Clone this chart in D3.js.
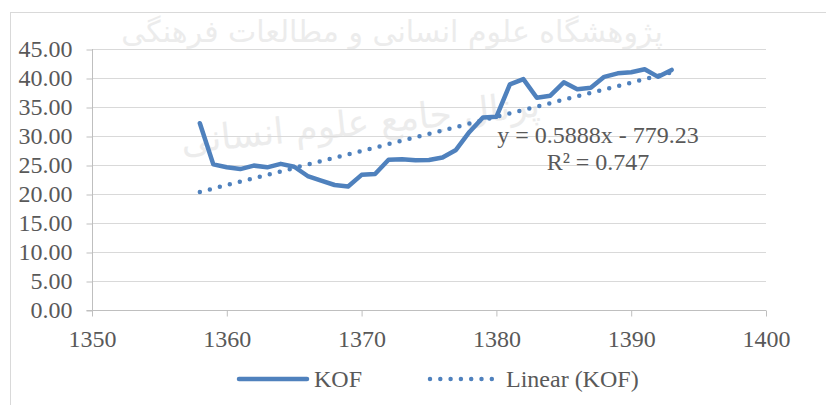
<!DOCTYPE html>
<html>
<head>
<meta charset="utf-8">
<script src="https://cdn.jsdelivr.net/npm/d3@7"></script>
<style>
  html, body { margin: 0; padding: 0; background: #fff; }
  svg { display: block; }
</style>
</head>
<body>
<svg id="chart" width="826" height="405"></svg>
<script>
// ---- data ----
const years = [1358,1359,1360,1361,1362,1363,1364,1365,1366,1367,1368,1369,1370,1371,1372,1373,1374,1375,1376,1377,1378,1379,1380,1381,1382,1383,1384,1385,1386,1387,1388,1389,1390,1391,1392,1393];
const kof   = [32.2,25.1,24.6,24.3,24.9,24.6,25.2,24.7,23.1,22.3,21.55,21.3,23.3,23.45,25.9,26.0,25.8,25.85,26.3,27.6,30.7,33.2,33.3,38.9,39.8,36.6,36.95,39.25,38.05,38.3,40.2,40.8,41.0,41.5,40.2,41.4];
const trendSlope = 0.5888;
const trendIntercept = -779.23;
const equationLines = ["y = 0.5888x - 779.23", "R² = 0.747"];
const xTicks = [1350,1360,1370,1380,1390,1400];
const yTicks = [0,5,10,15,20,25,30,35,40,45];
const legendLabels = ["KOF", "Linear (KOF)"];
const watermark = ["پژوهشگاه علوم انسانی و مطالعات فرهنگی", "پرتال جامع علوم انسانی"];

// ---- layout ----
const svg = d3.select("#chart");
const pL = 92, pR = 766, pT = 49, pB = 310;
const x = d3.scaleLinear().domain([1350,1400]).range([pL, pR]);
const y = d3.scaleLinear().domain([0,45]).range([pB, pT]);
const blue = "#4f81bd";
const textColor = "#595959";
const SERIF = "Liberation Serif";
const serifText = sel => sel.style("font-family", SERIF).style("font-size", "24px").attr("fill", textColor);

// chart frame
svg.append("rect").attr("x", 10.5).attr("y", 12.5).attr("width", 830).attr("height", 400)
  .attr("fill", "none").attr("stroke", "#d9d9d9").attr("stroke-width", 1);

// watermark (faint background logo text)
const wm = svg.append("g").attr("fill", "#ececec")
  .attr("text-anchor", "middle").attr("direction", "rtl");
wm.append("text").attr("x", 392).attr("y", 42).style("font-family", "DejaVu Sans").style("font-size", "30px").text(watermark[0]);
wm.append("text").attr("x", 360).attr("y", 135).style("font-family", "DejaVu Sans").style("font-size", "36px")
  .attr("transform", "rotate(-6,360,120)").text(watermark[1]);

// gridlines
svg.append("g").selectAll("line").data(yTicks.filter(d => d > 0)).join("line")
  .attr("x1", pL).attr("x2", pR)
  .attr("y1", d => Math.round(y(d)) + 0.5).attr("y2", d => Math.round(y(d)) + 0.5)
  .attr("stroke", "#d9d9d9").attr("stroke-width", 1);

// y axis
const yAxis = d3.axisLeft(y).tickValues(yTicks).tickSize(6).tickPadding(14)
  .tickFormat(d3.format(".2f"));
const gy = svg.append("g").attr("transform", `translate(${pL + 0.5},0)`).call(yAxis);
gy.select(".domain").attr("stroke", "#bfbfbf").attr("d", `M-6,${pB + 0.5}H0V${pT}`);
gy.selectAll(".tick line").attr("stroke", "#bfbfbf").attr("transform", "translate(0,0.5)");
gy.selectAll(".tick text").call(serifText).attr("dy", "0.32em");

// x axis
const xAxis = d3.axisBottom(x).tickValues(xTicks).tickSize(6).tickPadding(13)
  .tickFormat(d3.format("d"));
const gx = svg.append("g").attr("transform", `translate(0,${pB + 0.5})`).call(xAxis);
gx.select(".domain").attr("stroke", "#bfbfbf").attr("d", `M${pL},0H${pR}`);
gx.selectAll(".tick line").attr("stroke", "#bfbfbf");
gx.selectAll(".tick text").call(serifText).attr("dy", "0.71em");

// KOF line
const data = years.map((yr, i) => ({ yr, v: kof[i] }));
svg.append("path").datum(data)
  .attr("d", d3.line().x(d => x(d.yr)).y(d => y(d.v)))
  .attr("fill", "none").attr("stroke", blue).attr("stroke-width", 4.5)
  .attr("stroke-linejoin", "round").attr("stroke-linecap", "round");

// Linear trend
const x0 = d3.min(years), x1 = d3.max(years);
const trend = [x0, x1].map(t => ({ yr: t, v: trendSlope * t + trendIntercept }));
svg.append("path").datum(trend)
  .attr("d", d3.line().x(d => x(d.yr)).y(d => y(d.v)))
  .attr("fill", "none").attr("stroke", blue).attr("stroke-width", 4.5)
  .attr("stroke-linecap", "round").attr("stroke-dasharray", "0 10.3");

// equation
const eq = svg.append("text").call(serifText).attr("text-anchor", "middle");
eq.append("tspan").attr("x", 598).attr("y", 143).text(equationLines[0]);
eq.append("tspan").attr("x", 598).attr("y", 170).text(equationLines[1]);

// legend
const lg = svg.append("g");
lg.append("line").attr("x1", 239).attr("x2", 307).attr("y1", 379).attr("y2", 379)
  .attr("stroke", blue).attr("stroke-width", 4.5).attr("stroke-linecap", "round");
lg.append("text").attr("x", 314).attr("y", 387).call(serifText).text(legendLabels[0]);
lg.append("line").attr("x1", 430).attr("x2", 498).attr("y1", 379).attr("y2", 379)
  .attr("stroke", blue).attr("stroke-width", 4.5).attr("stroke-linecap", "round")
  .attr("stroke-dasharray", "0 10.3");
lg.append("text").attr("x", 506).attr("y", 387).call(serifText).text(legendLabels[1]);
</script>
</body>
</html>
